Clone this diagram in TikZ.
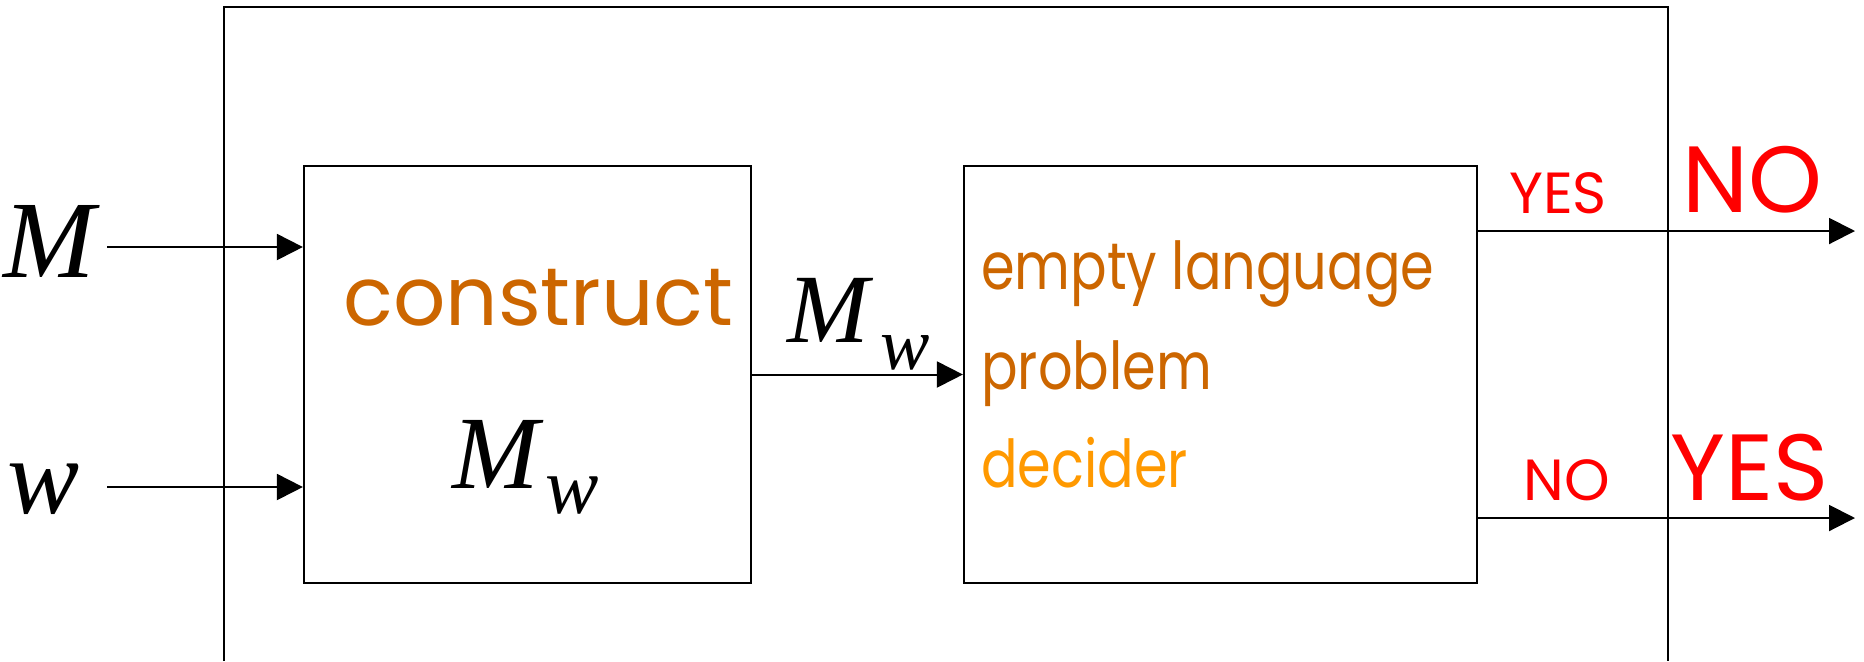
\documentclass[tikz,border=0pt]{standalone}
\usepackage{fontspec}
\newfontfamily\comic{Poppins}
\newfontfamily\comicn[FakeStretch=0.82]{Poppins}
\newfontfamily\tnr{Liberation Serif}
\usetikzlibrary{arrows.meta}
\definecolor{brown1}{HTML}{CC6600}
\definecolor{orange1}{HTML}{FF9900}
\definecolor{red1}{HTML}{FF0000}
\tikzset{
  boxst/.style={draw, line width=1.1pt, inner sep=0pt, minimum width=#1, minimum height=208.5pt},
  arr/.style={line width=1pt, -{Triangle[length=13pt,width=13pt]}},
  wire/.style={line width=1pt},
  lbl/.style={inner sep=0pt, anchor=base west},
  dectext/.style={lbl, font=\comicn\fontsize{33}{33}\selectfont},
  smallred/.style={inner sep=0pt, anchor=base, text=red1, font=\comic\fontsize{29}{29}\selectfont},
  bigred/.style={inner sep=0pt, anchor=base, text=red1, font=\comic\fontsize{47}{47}\selectfont},
}
\begin{document}
\begin{tikzpicture}[x=0.5pt,y=-0.5pt]
\useasboundingbox (0,0) rectangle (1864,661);
% outer box (open at bottom)
\draw[wire] (224,661) -- (224,7) -- (1668,7) -- (1668,661);
% boxes
\node[boxst=223.5pt] (con) at (527.5,374.5) {};
\node[boxst=256.5pt] (dec) at (1220.5,374.5) {};
% inputs
\node[lbl, font=\tnr\itshape\fontsize{55}{55}\selectfont] (Min) at (3,277) {M};
\node[lbl, font=\tnr\itshape\fontsize{54}{54}\selectfont] (win) at (7,513) {w};
\coordinate (Ms) at (107,247);
\coordinate (ws) at (107,487);
\draw[arr] (Ms) -- (con.west |- Ms);
\draw[arr] (ws) -- (con.west |- ws);
% construct text
\node[lbl, text=brown1, font=\comic\fontsize{41}{41}\selectfont] (ctext) at (343,325) {construct};
\node[lbl, font=\tnr\itshape\fontsize{52}{52}\selectfont] (cM) at (452,488) {M};
\node[lbl, font=\tnr\itshape\fontsize{40}{40}\selectfont] (cw) at (545,513) {w};
% middle connector
\draw[arr] (con.east) -- (dec.west);
\node[lbl, font=\tnr\itshape\fontsize{49}{49}\selectfont] (mM) at (787,342) {M};
\node[lbl, font=\tnr\itshape\fontsize{37}{37}\selectfont] (mw) at (880,369) {w};
% decider text
\node[dectext, text=brown1] (d1) at (981,289) {empty language};
\node[dectext, text=brown1] (d2) at (981,389) {problem};
\node[dectext, text=orange1] (d3) at (981,487) {decider};
% outputs
\coordinate (yEnd) at (1855,231);
\coordinate (nEnd) at (1855,518);
\draw[arr] (dec.east |- yEnd) -- (yEnd);
\draw[arr] (dec.east |- nEnd) -- (nEnd);
\node[smallred] (sy) at (1558,213) {YES};
\node[smallred] (sn) at (1567,500) {NO};
\node[bigred] (bn) at (1752,212) {NO};
\node[bigred] (by) at (1750,500) {YES};
\end{tikzpicture}
\end{document}
